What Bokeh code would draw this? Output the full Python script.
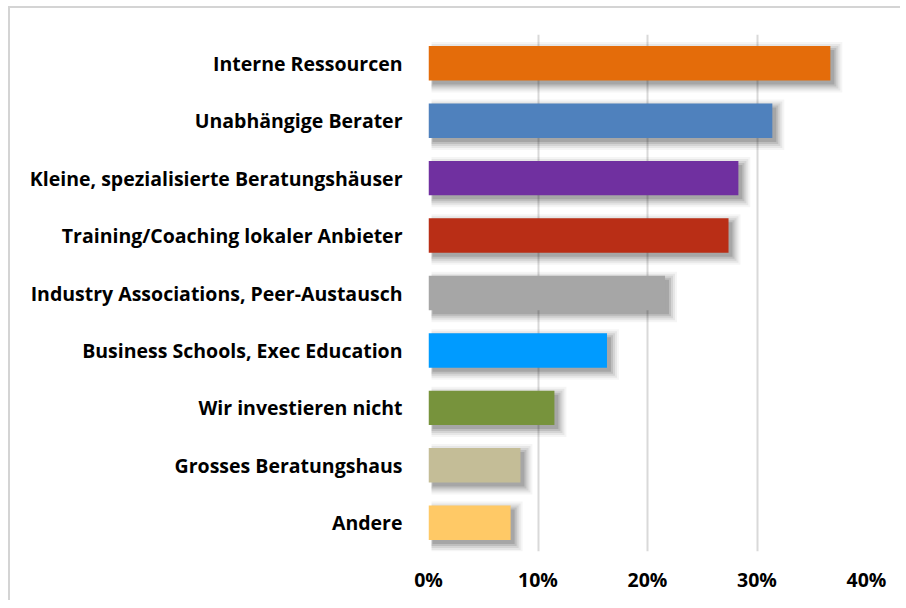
from bokeh.plotting import figure
from bokeh.models import FactorRange, Range1d, NumeralTickFormatter, ColumnDataSource, FixedTicker
from bokeh.transform import dodge
from bokeh.embed import file_html
from bokeh.resources import INLINE

categories = [
    "Interne Ressourcen",
    "Unabhängige Berater",
    "Kleine, spezialisierte Beratungshäuser",
    "Training/Coaching lokaler Anbieter",
    "Industry Associations, Peer-Austausch",
    "Business Schools, Exec Education",
    "Wir investieren nicht",
    "Grosses Beratungshaus",
    "Andere",
]
values = [0.367, 0.314, 0.283, 0.274, 0.216, 0.163, 0.115, 0.084, 0.075]
colors = ["#E46C0A", "#4F81BD", "#7030A0", "#B92E16", "#A6A6A6",
          "#009BFF", "#77933C", "#C4BD97", "#FFC966"]
x_ticks = [0, 0.1, 0.2, 0.3, 0.4]

FONT = "Open Sans"
W, H = 892, 594
ML, MR, MT, MB = 418, 36, 26, 51
p = figure(width=W, height=H, output_backend="svg", toolbar_location=None,
           y_range=FactorRange(factors=list(reversed(categories))),
           x_range=Range1d(0, 0.4))
p.min_border_left = ML
p.min_border_right = MR
p.min_border_top = MT
p.min_border_bottom = MB
p.outline_line_color = None
p.styles = {"border-top": "2px solid #d4d4d4", "border-left": "2px solid #d4d4d4",
            "box-sizing": "border-box", "margin-left": "8px", "margin-top": "6px"}

# pixel -> data unit conversions
frame_w = W - ML - MR
frame_h = H - MT - MB
px_x = 0.4 / frame_w
px_y = len(categories) / frame_h
bar_h = 0.6

# drop shadows (layered, soft)
for g, a in [(8, 0.04), (6, 0.06), (4, 0.08), (2, 0.10), (0, 0.12)]:
    src = ColumnDataSource(dict(
        y=categories,
        left=[px_x * max(4 - g, 3)] * len(values),
        right=[v + px_x * (4 + g) for v in values],
    ))
    p.hbar(y=dodge("y", -4 * px_y, range=p.y_range), left="left", right="right",
           height=bar_h + 2 * g * px_y, source=src,
           fill_color="#000000", fill_alpha=a, line_color=None)

src = ColumnDataSource(dict(y=categories, right=values, color=colors))
p.hbar(y="y", left=0, right="right", height=bar_h, source=src,
       fill_color="color", line_color=None)

p.xaxis.ticker = FixedTicker(ticks=x_ticks)
p.xaxis.formatter = NumeralTickFormatter(format="0%")
p.xgrid.ticker = FixedTicker(ticks=x_ticks)
p.xgrid.grid_line_color = "#d9d9d9"
p.xgrid.grid_line_width = 2
p.ygrid.grid_line_color = None

for ax in (p.xaxis[0], p.yaxis[0]):
    ax.axis_line_color = None
    ax.major_tick_line_color = None
    ax.minor_tick_line_color = None
    ax.major_label_text_font = FONT
    ax.major_label_text_font_style = "bold"
    ax.major_label_text_font_size = "19.5px"
    ax.major_label_text_color = "#000000"
p.xaxis.major_label_standoff = 8
p.yaxis.major_label_standoff = 20
p.y_range.range_padding = 0

open("out.html", "w").write(file_html(p, INLINE))
